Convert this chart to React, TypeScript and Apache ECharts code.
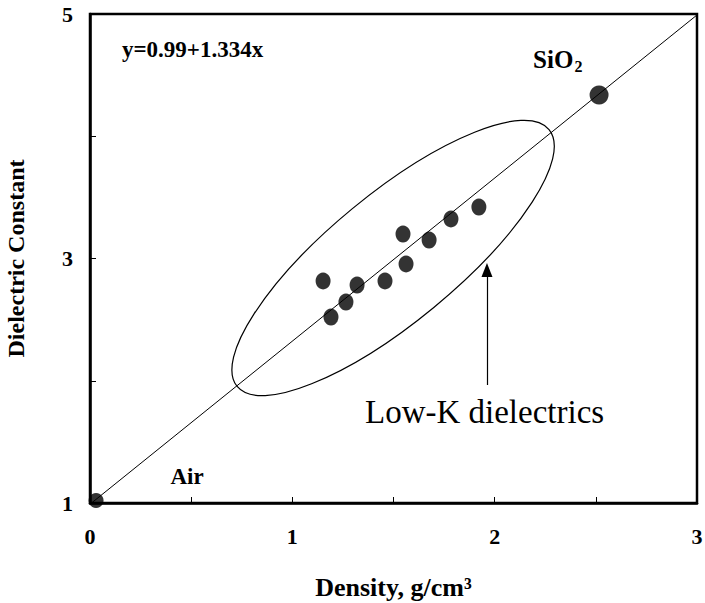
import React, { useEffect, useRef } from "react";
import * as echarts from "echarts";

// Low-K dielectric films (density g/cm3, dielectric constant)
const densities = [1.152, 1.191, 1.265, 1.32, 1.458, 1.547, 1.562, 1.676, 1.784, 1.922];
const dielectrics = [2.816, 2.521, 2.644, 2.783, 2.816, 3.2, 2.955, 3.151, 3.323, 3.421];
const airPoint = [0.03, 1.02];
const sio2Point = [2.516, 4.337];
// fitted line y = 0.99 + 1.334x, end points
const fitX = [0, 3];
const fitY = [0.99, 4.992];
const xLabelTicks = [0, 1, 2, 3];
const yLabelTicks = [1, 3, 5];

// annotation anchors in data coordinates
const eqAnchor = [0.158, 4.706];
const sioAnchor = [2.19, 4.63];
const airAnchor = [0.48, 1.213];
const lowKAnchor = [1.359, 1.744];
const arrowFrom = [1.962, 1.965];
const arrowTo = [1.962, 2.906];
const ellipseCenter = [1.498, 3.004];

const FONT = "'Liberation Serif', 'Times New Roman', serif";

export default function App() {
  const ref = useRef<HTMLDivElement>(null);
  useEffect(() => {
    if (!ref.current) return;
    const chart = echarts.init(ref.current, undefined, { renderer: "svg" });
    const option: any = {
      animation: false,
      backgroundColor: "#fff",
      grid: {
        left: 90,
        right: 8,
        top: 14,
        bottom: 100,
        containLabel: false,
        outerBoundsMode: "none",
        show: true,
        borderColor: "#000",
        borderWidth: 2.5,
        backgroundColor: "transparent",
      },
      xAxis: {
        type: "value",
        min: 0,
        max: 3,
        interval: 0.5,
        name: "Density, g/cm³",
        nameLocation: "middle",
        nameGap: 71,
        nameTextStyle: { fontFamily: FONT, fontWeight: "bold", fontSize: 26, color: "#000" },
        axisLine: { show: true, lineStyle: { color: "#000", width: 2.5 } },
        axisTick: { show: true, inside: true, length: 6, lineStyle: { color: "#000", width: 1 } },
        axisLabel: {
          margin: 22,
          fontFamily: FONT,
          fontWeight: "bold",
          fontSize: 22,
          color: "#000",
          formatter: (v: number) => (xLabelTicks.includes(v) ? String(v) : ""),
        },
        splitLine: { show: false },
      },
      yAxis: {
        type: "value",
        min: 1,
        max: 5,
        interval: 1,
        name: "Dielectric Constant",
        nameLocation: "middle",
        nameGap: 62,
        nameTextStyle: { fontFamily: FONT, fontWeight: "bold", fontSize: 24, color: "#000" },
        axisLine: { show: true, lineStyle: { color: "#000", width: 2.5 } },
        axisTick: { show: true, inside: true, length: 6, lineStyle: { color: "#000", width: 1 } },
        axisLabel: {
          margin: 17,
          fontFamily: FONT,
          fontWeight: "bold",
          fontSize: 22,
          color: "#000",
          formatter: (v: number) => (yLabelTicks.includes(v) ? String(v) : ""),
        },
        splitLine: { show: false },
      },
      series: [
        {
          type: "line",
          data: fitX.map((x, i) => [x, fitY[i]]),
          symbol: "none",
          lineStyle: { color: "#000", width: 1 },
          z: 1,
          silent: true,
        },
        {
          type: "scatter",
          data: densities.map((x, i) => [x, dielectrics[i]]),
          symbol: "circle",
          symbolSize: [15, 17],
          itemStyle: { color: "#000" },
          z: 3,
          markLine: {
            silent: true,
            symbol: ["none", "triangle"],
            symbolSize: [11, 14],
            label: { show: false },
            lineStyle: { color: "#000", width: 1.2, type: "solid" },
            data: [[{ coord: arrowFrom }, { coord: arrowTo }]],
          },
        },
        {
          type: "scatter",
          data: [airPoint],
          symbolSize: 15,
          itemStyle: { color: "#000" },
          z: 3,
        },
        {
          type: "scatter",
          data: [sio2Point],
          symbolSize: 19,
          itemStyle: { color: "#000" },
          z: 3,
        },
      ],
    };
    chart.setOption(option);

    const px = (p: number[]) => chart.convertToPixel({ gridIndex: 0 }, p) as number[];
    const eq = px(eqAnchor);
    const sio = px(sioAnchor);
    const air = px(airAnchor);
    const lowK = px(lowKAnchor);
    const ec = px(ellipseCenter);

    chart.setOption({
      graphic: [
        {
          type: "ellipse",
          x: ec[0],
          y: ec[1],
          rotation: (39.5 * Math.PI) / 180,
          shape: { cx: 0, cy: 0, rx: 202, ry: 64 },
          style: { fill: "none", stroke: "#000", lineWidth: 1.2 },
          z: 2,
          silent: true,
        },
        {
          type: "text",
          x: eq[0],
          y: eq[1],
          style: {
            text: "y=0.99+1.334x",
            font: `bold 23px ${FONT}`,
            fill: "#000",
            textAlign: "left",
            textVerticalAlign: "middle",
          },
        },
        {
          type: "text",
          x: sio[0],
          y: sio[1],
          style: {
            text: "{a|SiO}{b|2}",
            textAlign: "left",
            textVerticalAlign: "middle",
            rich: {
              a: { fontFamily: FONT, fontWeight: "bold", fontSize: 25, fill: "#000", color: "#000" },
              b: { fontFamily: FONT, fontWeight: "bold", fontSize: 16, fill: "#000", color: "#000", padding: [14, 0, 0, 1] },
            },
          },
        },
        {
          type: "text",
          x: air[0],
          y: air[1],
          style: {
            text: "Air",
            font: `bold 23px ${FONT}`,
            fill: "#000",
            textAlign: "center",
            textVerticalAlign: "middle",
          },
        },
        {
          type: "text",
          x: lowK[0],
          y: lowK[1],
          style: {
            text: "Low-K dielectrics",
            font: `33px ${FONT}`,
            fill: "#000",
            textAlign: "left",
            textVerticalAlign: "middle",
          },
        },
      ],
    });
    return () => chart.dispose();
  }, []);
  return (
    <div
      ref={ref}
      style={{ position: "fixed", left: 0, top: 0, width: 705, height: 603, background: "#fff" }}
    />
  );
}
